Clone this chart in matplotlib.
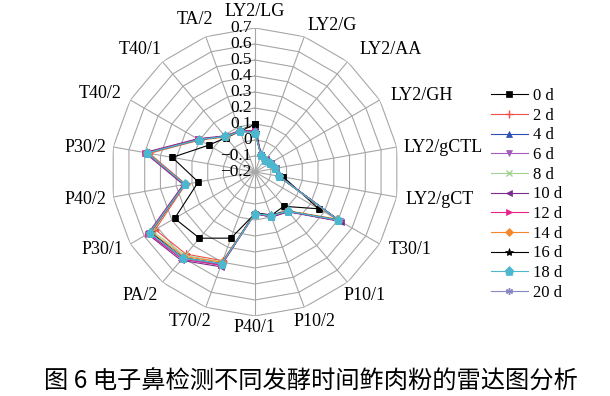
import numpy as np
import matplotlib
matplotlib.use("Agg")
import matplotlib.pyplot as plt
from matplotlib.lines import Line2D
from matplotlib.transforms import offset_copy

categories = ["LY2/LG", "LY2/G", "LY2/AA", "LY2/GH", "LY2/gCTL", "LY2/gCT",
              "T30/1", "P10/1", "P10/2", "P40/1", "T70/2", "PA/2", "P30/1",
              "P40/2", "P30/2", "T40/2", "T40/1", "TA/2"]
series_names = ["0 d", "2 d", "4 d", "6 d", "8 d", "10 d", "12 d", "14 d", "16 d", "18 d", "20 d"]
d0  = [0.10, -0.09, -0.10, -0.09, -0.07, -0.02, 0.26, 0.08, 0.09, 0.06, 0.24, 0.34, 0.38, 0.16, 0.325, 0.135, 0.08, 0.07]
d2  = [0.05, -0.09, -0.10, -0.09, -0.07, -0.05, 0.39, 0.12, 0.09, 0.06, 0.39, 0.47, 0.52, 0.24, 0.47, 0.20, 0.09, 0.07]
d4  = [0.06, -0.09, -0.10, -0.09, -0.07, -0.05, 0.41, 0.12, 0.10, 0.06, 0.42, 0.50, 0.56, 0.245, 0.49, 0.21, 0.09, 0.07]
d6  = [0.055, -0.085, -0.10, -0.09, -0.07, -0.05, 0.41, 0.125, 0.095, 0.06, 0.42, 0.51, 0.565, 0.25, 0.49, 0.21, 0.09, 0.075]
d8  = [0.05, -0.09, -0.10, -0.09, -0.07, -0.05, 0.40, 0.12, 0.09, 0.06, 0.40, 0.48, 0.54, 0.245, 0.48, 0.205, 0.09, 0.07]
d10 = [0.055, -0.085, -0.095, -0.085, -0.065, -0.045, 0.42, 0.125, 0.10, 0.06, 0.43, 0.52, 0.575, 0.255, 0.50, 0.215, 0.095, 0.075]
d12 = [0.055, -0.085, -0.10, -0.09, -0.07, -0.05, 0.41, 0.12, 0.095, 0.06, 0.42, 0.51, 0.57, 0.25, 0.495, 0.21, 0.09, 0.075]
d14 = [0.05, -0.09, -0.10, -0.09, -0.07, -0.05, 0.39, 0.115, 0.09, 0.055, 0.40, 0.49, 0.55, 0.24, 0.48, 0.20, 0.085, 0.07]
d16 = [0.05, -0.09, -0.10, -0.09, -0.07, -0.05, 0.40, 0.12, 0.085, 0.055, 0.41, 0.50, 0.555, 0.245, 0.485, 0.205, 0.09, 0.07]
d18 = [0.045, -0.09, -0.10, -0.09, -0.07, -0.05, 0.40, 0.12, 0.09, 0.06, 0.41, 0.50, 0.56, 0.245, 0.485, 0.205, 0.09, 0.07]
d20 = [0.05, -0.09, -0.10, -0.09, -0.07, -0.05, 0.405, 0.12, 0.09, 0.06, 0.41, 0.505, 0.56, 0.245, 0.485, 0.205, 0.09, 0.07]
r_ticks = [0.7, 0.6, 0.5, 0.4, 0.3, 0.2, 0.1, 0, -0.1, -0.2]
r_tick_labels = ["0.7", "0.6", "0.5", "0.4", "0.3", "0.2", "0.1", "0", "\u22120.1", "\u22120.2"]

all_series = [d0, d2, d4, d6, d8, d10, d12, d14, d16, d18, d20]
colors = ["#000000", "#f0504a", "#2b4fb3", "#a35bbf", "#9fd38f", "#7a2c8c",
          "#e8208a", "#f7862a", "#000000", "#4bb8d0", "#8a88c4"]
markers = ["s", "+", "^", "v", "x", "<", ">", "D", "*", "p", (6, 2, 0)]
msizes = [5, 6, 5, 5, 5, 5, 5, 4, 6, 6.5, 5]
zorders = [3.0, 3.1, 3.2, 3.3, 3.4, 3.5, 3.6, 3.7, 3.8, 4.0, 3.9]

serif = ["Liberation Serif", "DejaVu Serif"]
plt.rcParams["font.family"] = serif

W, H = 610, 396
fig = plt.figure(figsize=(W / 100, H / 100), dpi=100)
cx, cy, R = 255, 172, 144
ax = fig.add_axes([(cx - R) / W, 1 - (cy + R) / H, 2 * R / W, 2 * R / H], projection="polar")
ax.set_theta_zero_location("N")
ax.set_theta_direction(-1)
ax.set_ylim(-0.2, 0.7)
ax.grid(False)
ax.set_xticks([])
ax.set_yticks([])
ax.spines["polar"].set_visible(False)
ax.patch.set_alpha(0)

n = len(categories)
theta = np.arange(n) * 2 * np.pi / n
theta_c = np.append(theta, theta[0])

grid_color = "#a6a6a6"
for rv in r_ticks[:-1]:
    ax.plot(theta_c, [rv] * (n + 1), color=grid_color, lw=0.8, zorder=1)
for t in theta:
    ax.plot([t, t], [-0.2, 0.7], color=grid_color, lw=0.8, zorder=1)

tr = offset_copy(ax.transData, fig=fig, x=-2.5, y=0, units="points")
for rv, lab in zip(r_ticks, r_tick_labels):
    ax.text(0, rv, lab, transform=tr, ha="right", va="center", fontsize=12.5, zorder=2)

handles = []
for i, vals in enumerate(all_series):
    v = list(vals) + [vals[0]]
    mk = markers[i]
    mew = 1.0 if mk in ["+", "x", (6, 2, 0)] else 0.5
    ax.plot(theta_c, v, color=colors[i], lw=0.8, marker=mk, ms=msizes[i],
            markeredgewidth=mew, markeredgecolor=colors[i], zorder=zorders[i])
    handles.append(Line2D([], [], color=colors[i], lw=0.8, marker=mk, ms=msizes[i],
                          markeredgecolor=colors[i], markeredgewidth=mew))

label_pos = [(255, 11), (332, 25), (391, 50), (422, 95), (443, 148), (440, 200),
             (410, 250), (365, 296), (315, 322), (255, 328), (190, 322), (140, 296),
             (103, 250), (85, 200), (85, 148), (100, 93), (140, 50), (195, 20)]
for lab, (x, y) in zip(categories, label_pos):
    fig.text(x / W, 1 - y / H, lab, ha="center", va="center", fontsize=13)

fig.legend(handles, series_names, loc="upper left", bbox_to_anchor=(491 / W, 1 - 88 / H),
           frameon=False, fontsize=12, handlelength=2.2, handletextpad=0.3,
           labelspacing=0.22, borderaxespad=0, borderpad=0)

fig.text(311 / W, 1 - 382 / H, "图 6 电子鼻检测不同发酵时间鲊肉粉的雷达图分析",
         ha="center", va="center", fontsize=17.5,
         family=["Noto Sans CJK SC", "DejaVu Sans"])

fig.savefig("out.png", dpi=100)
